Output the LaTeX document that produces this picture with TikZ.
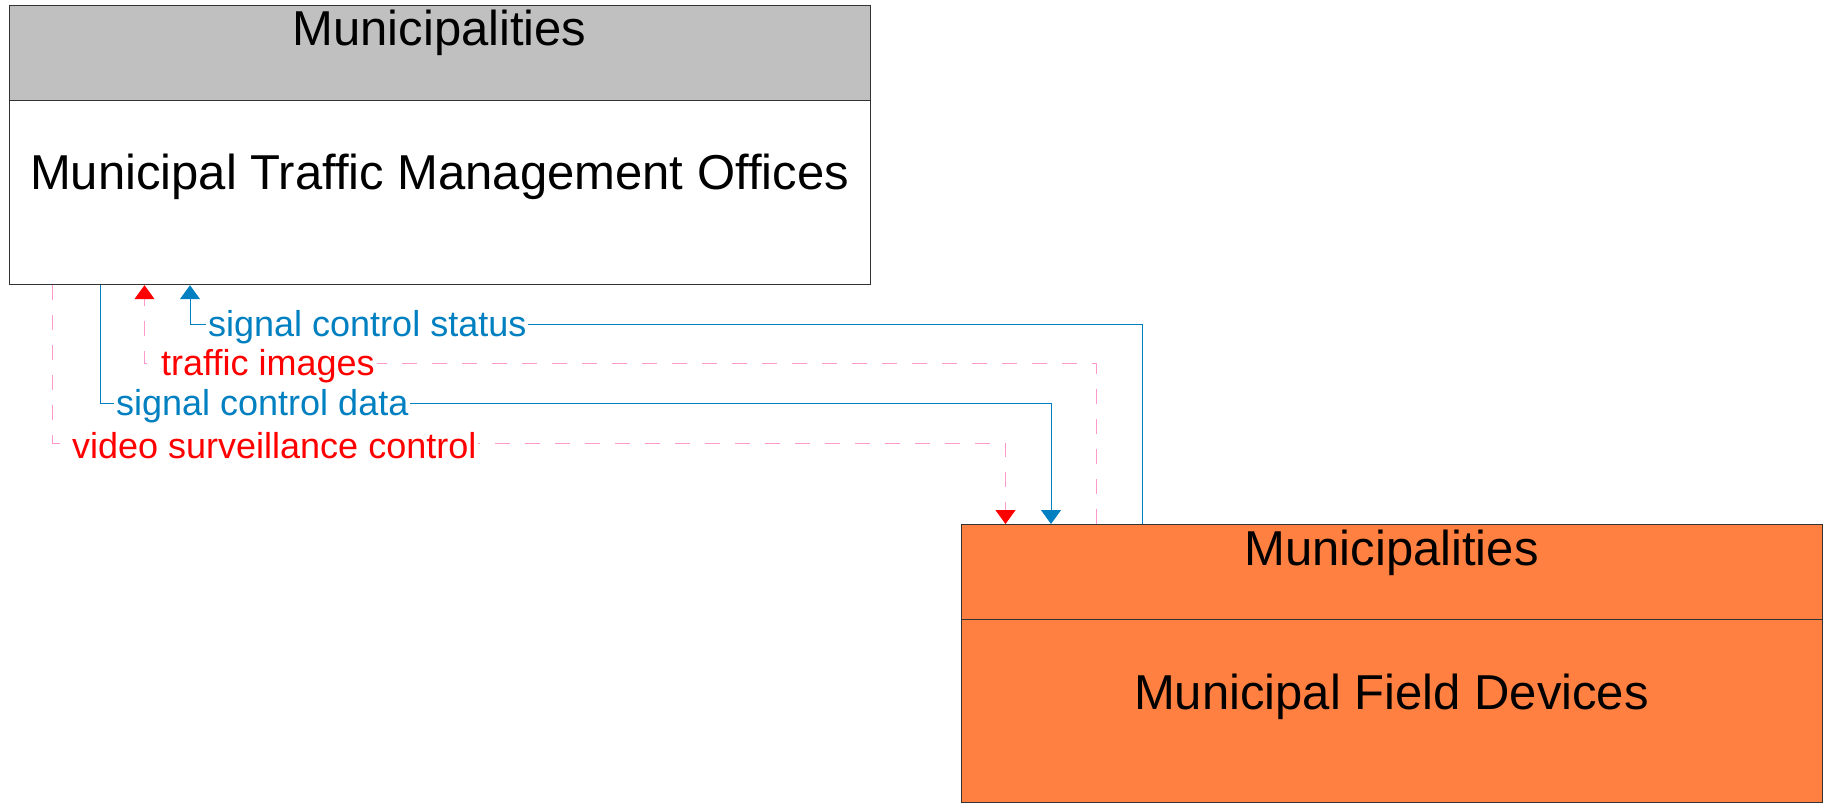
\documentclass[tikz,border=0pt]{standalone}
\usepackage{fontspec}
\setmainfont{Liberation Sans}
\usetikzlibrary{arrows.meta}
\definecolor{hdrgray}{HTML}{C0C0C0}
\definecolor{devorange}{HTML}{FF8040}
\definecolor{flowblue}{HTML}{0080C0}
\definecolor{flowred}{HTML}{FF0000}
\definecolor{flowpink}{HTML}{FF99CC}
\tikzset{
  boxpart/.style={draw=black!80, line width=1.2pt, anchor=north west, inner sep=0pt},
  titletext/.style={font=\fontsize{49}{56}\selectfont, text=black, inner sep=0pt},
  flowlbl/.style={font=\fontsize{36}{42}\selectfont, fill=white, inner sep=2pt, anchor=west, yshift=-3pt},
  blueflow/.style={draw=flowblue, line width=1pt, -{Triangle[width=20pt,length=14pt]}, color=flowblue},
  redflow/.style={draw=flowpink, line width=1pt, dash pattern=on 15pt off 15pt, -{Triangle[width=20pt,length=14pt,color=flowred,fill=flowred]}},
}
\begin{document}
\begin{tikzpicture}[x=1pt,y=-1pt]
\useasboundingbox (0,0) rectangle (1827,803);
% top entity
\node[boxpart, fill=hdrgray, minimum width=861pt, minimum height=95pt] (tophdr) at (9,5) {};
\node[boxpart, fill=white, minimum width=861pt, minimum height=184pt] (top) at (9,100) {};
\node[titletext] (tophdrtxt) at (439.5,33) {Municipalities};
\node[titletext] (toptxt) at (439.5,176.5) {Municipal Traffic Management Offices};
% bottom entity
\node[boxpart, fill=devorange, minimum width=861pt, minimum height=95pt] (bothdr) at (961,524) {};
\node[boxpart, fill=devorange, minimum width=861pt, minimum height=183pt] (bot) at (961,619) {};
\node[titletext] (bothdrtxt) at (1391.5,552.5) {Municipalities};
\node[titletext] (bottxt) at (1391.5,696.5) {Municipal Field Devices};
% bend coordinates
\coordinate (s1) at (top.south west -| 190,0);
\coordinate (s2) at (bothdr.north west -| 1142,0);
\coordinate (t1) at (top.south west -| 144.5,0);
\coordinate (t2) at (bothdr.north west -| 1096.5,0);
\coordinate (d1) at (top.south west -| 100,0);
\coordinate (d2) at (bothdr.north west -| 1051,0);
\coordinate (v1) at (top.south west -| 52.5,0);
\coordinate (v2) at (bothdr.north west -| 1005.5,0);
% flows
\draw[blueflow] (s2) |- (190,324) -- (s1);
\node[flowlbl, text=flowblue] (lstatus) at (206,324) {signal control status};
\draw[redflow] (t2) |- (144.5,363.5) -- (t1);
\node[flowlbl, text=flowred] (limages) at (159,363.5) {traffic images};
\draw[blueflow] (d1) |- (1051,403) -- (d2);
\node[flowlbl, text=flowblue] (ldata) at (114,403) {signal control data};
\draw[redflow] (v1) |- (1005.5,443) -- (v2);
\node[flowlbl, text=flowred] (lvideo) at (70,443) {video surveillance control};
\end{tikzpicture}
\end{document}
